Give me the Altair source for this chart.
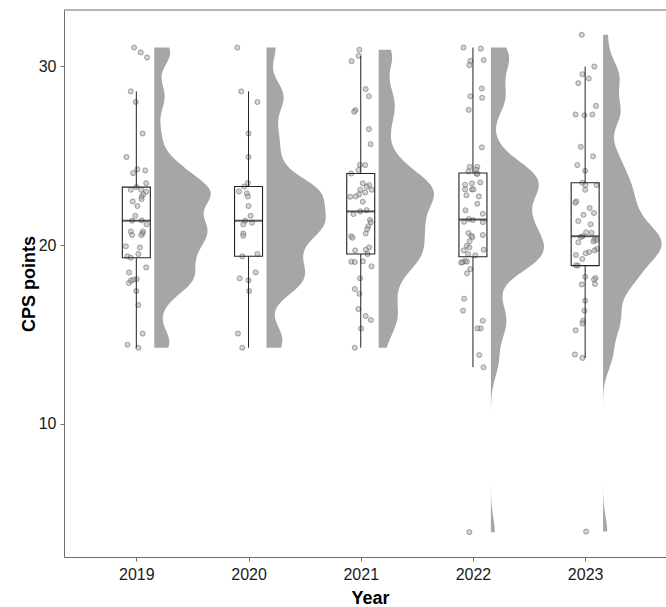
import altair as alt
import numpy as np
import pandas as pd

# ---- data -------------------------------------------------------------
YEARS = [2019, 2020, 2021, 2022, 2023]

cps_2019 = [31.04, 30.77, 30.49, 28.59, 28.00, 26.24, 24.92, 24.23, 24.17, 24.02,
            23.46, 23.24, 23.09, 23.09, 22.98, 22.83, 22.70, 22.57, 22.44, 22.18,
            21.64, 21.38, 21.36, 21.16, 20.76, 20.76, 20.65, 20.56, 20.56, 19.93,
            19.87, 19.50, 19.37, 19.29, 18.75, 18.47, 18.10, 18.06, 18.01, 17.88,
            17.43, 16.65, 15.05, 14.43, 14.26]
jit_2019 = [-0.020, 0.039, 0.096, -0.049, -0.005, 0.056, -0.088, 0.009, 0.079, -0.029,
            0.088, 0.000, -0.049, 0.044, 0.088, 0.061, 0.047, 0.047, -0.032, 0.009,
            -0.009, 0.047, -0.038, 0.091, -0.049, 0.059, 0.056, -0.038, 0.044, -0.093,
            0.032, 0.018, -0.079, -0.049, 0.088, -0.064, 0.004, -0.026, -0.049, -0.067,
            0.000, 0.018, 0.056, -0.079, 0.018]

cps_2020 = [31.04, 28.59, 28.00, 26.24, 24.92, 23.46, 23.27, 23.00, 22.89, 22.72,
            22.18, 21.64, 21.36, 21.25, 21.16, 20.65, 20.52, 19.50, 19.37, 18.47,
            18.14, 18.03, 17.43, 15.05, 14.26]
jit_2020 = [-0.100, -0.065, 0.079, 0.000, 0.000, -0.006, -0.039, -0.085, -0.015, -0.006,
            0.000, 0.018, -0.030, 0.032, -0.047, -0.047, -0.047, 0.079, -0.056, 0.064,
            -0.079, 0.000, 0.005, -0.094, -0.056]

cps_2021 = [30.92, 30.58, 30.28, 28.72, 28.32, 27.54, 27.45, 26.48, 25.64, 24.49,
            24.47, 24.20, 24.00, 23.45, 23.35, 23.26, 23.09, 23.09, 22.94, 22.83,
            22.72, 22.70, 22.42, 21.95, 21.88, 21.73, 21.40, 21.27, 21.05, 20.89,
            20.65, 20.49, 20.41, 19.87, 19.74, 19.70, 19.50, 19.09, 19.07, 19.05,
            18.81, 18.14, 17.54, 17.28, 16.42, 16.03, 15.81, 15.33, 14.26]
jit_2021 = [-0.012, -0.018, -0.082, 0.044, 0.073, -0.047, -0.059, 0.073, 0.088, -0.006,
            0.040, -0.021, -0.085, 0.018, 0.075, 0.053, -0.004, 0.099, 0.040, -0.015,
            -0.044, -0.094, 0.018, 0.053, -0.004, -0.065, 0.082, 0.090, 0.067, 0.058,
            0.044, -0.085, -0.074, 0.075, 0.046, -0.050, 0.061, 0.020, -0.085, -0.053,
            0.096, -0.006, -0.053, -0.012, -0.021, 0.044, 0.090, 0.003, -0.053]

cps_2022 = [31.04, 30.98, 30.34, 30.30, 30.06, 28.75, 28.32, 28.23, 27.56, 25.46,
            24.37, 24.37, 24.21, 24.12, 24.00, 23.97, 23.50, 23.45, 23.37, 23.11,
            23.11, 23.11, 22.78, 22.72, 22.31, 21.94, 21.75, 21.45, 21.40, 21.30,
            21.28, 20.67, 20.56, 20.52, 20.44, 20.22, 19.96, 19.87, 19.74, 19.70,
            19.50, 19.42, 19.11, 19.07, 19.04, 19.02, 18.66, 18.42, 17.00, 16.33,
            15.77, 15.34, 15.34, 13.85, 13.17, 3.95]
jit_2022 = [-0.084, 0.070, 0.096, -0.023, -0.032, 0.079, -0.023, 0.082, -0.038, 0.079,
            -0.029, 0.039, 0.030, -0.040, 0.032, 0.039, 0.065, -0.009, -0.070, -0.070,
            -0.009, 0.004, -0.058, 0.053, 0.039, -0.067, 0.088, -0.038, 0.000, -0.079,
            0.088, -0.040, 0.088, -0.014, -0.005, -0.029, -0.055, -0.032, 0.096, -0.082,
            -0.044, 0.021, -0.070, -0.053, -0.093, -0.105, -0.023, -0.053, -0.079, -0.088,
            0.088, 0.041, 0.070, 0.056, 0.094, -0.032]

cps_2023 = [31.75, 29.98, 29.55, 29.31, 29.05, 27.78, 27.30, 27.26, 27.30, 25.49,
            24.96, 24.47, 24.15, 23.48, 23.35, 23.09, 23.35, 22.44, 22.36, 22.07,
            21.79, 21.69, 21.34, 21.16, 20.71, 20.69, 20.49, 20.45, 20.30, 20.27,
            20.15, 20.21, 19.61, 19.54, 19.78, 19.70, 19.44, 19.22, 18.85, 18.87,
            18.23, 18.16, 18.08, 17.80, 17.82, 16.89, 16.33, 15.77, 15.62, 15.23,
            13.88, 13.69, 3.98]
jit_2023 = [-0.030, 0.082, -0.024, 0.032, -0.061, 0.096, -0.085, -0.006, 0.064, -0.039,
            0.070, -0.070, 0.000, -0.024, 0.003, 0.000, 0.102, -0.079, -0.088, 0.040,
            0.079, -0.015, -0.061, 0.049, 0.009, 0.058, -0.024, -0.039, 0.084, 0.102,
            -0.061, 0.073, 0.035, 0.005, 0.105, 0.084, -0.082, -0.026, -0.065, -0.082,
            0.000, 0.093, 0.079, -0.030, 0.088, 0.000, -0.006, -0.018, -0.024, -0.085,
            -0.091, -0.024, 0.009]

CPS = [cps_2019, cps_2020, cps_2021, cps_2022, cps_2023]
JIT = [jit_2019, jit_2020, jit_2021, jit_2022, jit_2023]

# ---- layout / style -----------------------------------------------------
FONT = "Liberation Sans"
FRAME = "#6e6e6e"
VIOLIN_FILL = "#A6A6A6"
VIOLIN_NUDGE = 0.16      # half-violins sit just right of each box
VIOLIN_SCALE = 4.1       # x-units per unit of probability density
BW_ADJUST = 0.6          # multiplier on the rule-of-thumb bandwidth
X_DOMAIN = [2018.4, 2023.676]
Y_DOMAIN = [2.56, 33.14]
PLOT_W, PLOT_H = 602, 547

rows = []
for year, vals, jit in zip(YEARS, CPS, JIT):
    for v, j in zip(vals, jit):
        rows.append({"year": year, "cps": v, "xj": year + j})
df = pd.DataFrame(rows)


def nrd0(values):
    """Silverman's rule of thumb (R's bw.nrd0)."""
    v = np.asarray(values, dtype=float)
    q75, q25 = np.percentile(v, [75, 25])
    spread = min(v.std(ddof=1), (q75 - q25) / 1.34)
    return 0.9 * spread * len(v) ** -0.2


xscale = alt.Scale(domain=X_DOMAIN, nice=False, zero=False)
yscale = alt.Scale(domain=Y_DOMAIN, nice=False, zero=False)

x_axis = alt.Axis(
    values=YEARS, format="d", title="Year", grid=False,
    labelFont=FONT, labelFontSize=16, labelColor="#1a1a1a", labelPadding=5,
    tickSize=4, tickColor=FRAME, domainColor=FRAME,
    titleFont=FONT, titleFontSize=18, titleFontWeight="bold", titleColor="black",
    titleX=306, titleY=46.5, titleAlign="center", titleBaseline="alphabetic",
)
y_axis = alt.Axis(
    values=[10, 20, 30], title="CPS points", grid=False,
    labelFont=FONT, labelFontSize=16, labelColor="#1a1a1a", labelPadding=4,
    tickSize=4, tickColor=FRAME, domainColor=FRAME,
    titleFont=FONT, titleFontSize=18, titleFontWeight="bold", titleColor="black",
    titleX=-30, titleY=PLOT_H / 2, titleAngle=270, titleAlign="center",
    titleBaseline="alphabetic",
)


def X(field):
    return alt.X(field, scale=xscale, axis=x_axis)


def Y(field):
    return alt.Y(field, scale=yscale, axis=y_axis)


# half violins: one density per year, trimmed to that year's range
violins = []
for year, vals in zip(YEARS, CPS):
    base = f"{year} + {VIOLIN_NUDGE}"
    violins.append(
        alt.Chart(df)
        .transform_filter(alt.datum.year == year)
        .transform_density(
            "cps", as_=["cps", "density"], bandwidth=float(BW_ADJUST * nrd0(vals)),
            extent=[min(vals), max(vals)], steps=400,
        )
        .transform_calculate(x0=base, x1=f"{base} + datum.density * {VIOLIN_SCALE}")
        .mark_area(orient="horizontal", color=VIOLIN_FILL, clip=True)
        .encode(y=Y("cps:Q"), x=X("x1:Q"), x2="x0:Q")
    )

points = (
    alt.Chart(df)
    .mark_circle(size=26, fill="#a8a8a8", fillOpacity=0.5,
                 stroke="#4a4a4a", strokeOpacity=0.55, strokeWidth=0.8)
    .encode(x=X("xj:Q"), y=Y("cps:Q"))
)

boxes = (
    alt.Chart(df)
    .mark_boxplot(
        extent=1.5, size=28, orient="vertical", outliers=False, ticks=False,
        box={"fill": "white", "fillOpacity": 0, "stroke": "#222222", "strokeWidth": 1.1},
        median={"color": "#111111", "thickness": 2},
        rule={"color": "#222222", "strokeWidth": 1},
    )
    .encode(x=X("year:Q"), y=Y("cps:Q"))
)

top_edge = (
    alt.Chart(pd.DataFrame({"edge": [0]}))
    .mark_rule(color=FRAME, strokeWidth=1)
    .encode(x=alt.value(0), x2=alt.value("width"), y=alt.value(0))
)

chart = (
    alt.layer(*violins, points, boxes, top_edge)
    .properties(
        width=PLOT_W, height=PLOT_H,
        autosize=alt.AutoSizeParams(type="none"),
        padding={"left": 64, "top": 10, "right": 0, "bottom": 50},
        background="white",
    )
    .configure_view(stroke=None)
)

chart.save("out.html", embed_options={"renderer": "svg", "actions": False})
